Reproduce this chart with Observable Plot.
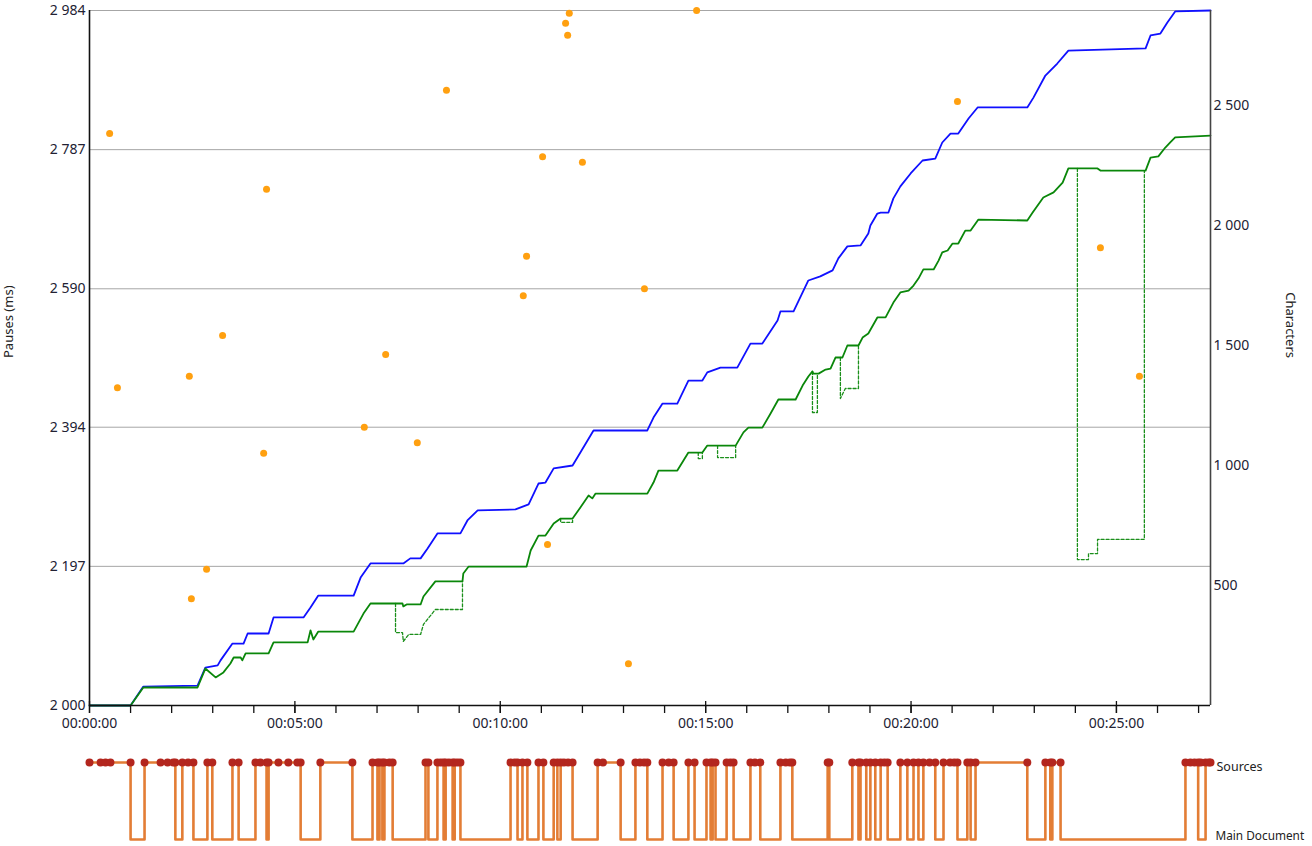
<!DOCTYPE html>
<html><head><meta charset="utf-8">
<script src="https://cdn.jsdelivr.net/npm/d3@7"></script>
<script src="https://cdn.jsdelivr.net/npm/@observablehq/plot@0.6"></script>
<style>
body{margin:0;background:#fff;}
#wrap{width:1312px;height:846px;overflow:hidden;}
svg{display:block;}
</style></head><body><div id="wrap"></div>
<script>
// ---------- data (time in minutes) ----------
const xMax = 27.29;
const pauseTicks = [2000, 2197, 2394, 2590, 2787, 2984];
const charTicks = [500, 1000, 1500, 2000, 2500];
const charMax = 2896;
const majorTimeTicks = [0, 5, 10, 15, 20, 25];
const minorTimeTicks = d3.range(0, 28, 1);

// pauses: [minute, ms]
const pauses = [
  [0.49,2810],[0.68,2450],[2.43,2466],[2.48,2151],[2.85,2193],[3.24,2524],
  [4.31,2731],[4.24,2357],[6.69,2394],[7.21,2497],[7.98,2372],[8.69,2871],
  [10.56,2580],[10.64,2636],[11.03,2777],[11.15,2228],[11.59,2966],[11.64,2949],
  [11.68,2980],[12.00,2769],[13.12,2059],[13.51,2590],[14.78,2984],[21.13,2855],
  [24.61,2648],[25.56,2466]
];

// process (blue): [minute, characters]
const processChars = [
  [0,0],[1.00,0],[1.31,79],[2.63,83],[2.82,158],[3.12,167],[3.19,188],[3.48,258],
  [3.75,258],[3.85,300],[4.36,300],[4.48,367],[5.21,367],[5.38,408],[5.57,458],
  [6.43,458],[6.60,533],[6.84,592],[7.64,592],[7.81,613],[8.06,613],[8.23,654],
  [8.47,717],[9.03,717],[9.20,771],[9.45,813],[10.37,817],[10.69,838],[10.93,925],
  [11.10,929],[11.30,988],[11.76,1000],[11.95,1054],[12.27,1146],[13.58,1146],
  [13.73,1200],[13.95,1258],[14.31,1258],[14.58,1354],[14.92,1354],[15.04,1388],
  [15.36,1408],[15.77,1408],[16.09,1508],[16.38,1508],[16.75,1604],[16.82,1642],
  [17.14,1642],[17.50,1771],[17.79,1788],[18.09,1813],[18.23,1863],[18.45,1913],
  [18.77,1917],[18.96,1967],[19.01,2000],[19.18,2050],[19.26,2054],[19.45,2054],
  [19.57,2113],[19.74,2163],[19.99,2217],[20.28,2271],[20.59,2279],[20.76,2346],
  [20.96,2383],[21.15,2383],[21.40,2446],[21.62,2492],[22.83,2492],[22.98,2533],
  [23.27,2625],[23.56,2675],[23.83,2729],[25.71,2738],[25.83,2792],[26.07,2800],
  [26.24,2846],[26.43,2892],[27.29,2896]
];

// product (green solid): [minute, characters]
const productChars = [
  [0,0],[1.00,0],[1.31,75],[2.63,75],[2.82,154],[3.07,117],[3.26,138],[3.43,175],
  [3.51,200],[3.68,200],[3.72,188],[3.80,217],[4.36,217],[4.48,263],[5.31,263],
  [5.38,313],[5.45,275],[5.57,308],[6.43,308],[6.67,383],[6.84,425],[7.62,425],
  [7.64,413],[7.72,421],[8.06,421],[8.13,454],[8.42,517],[9.08,517],[9.10,550],
  [9.23,579],[10.64,579],[10.74,646],[10.93,708],[11.10,708],[11.30,758],[11.47,779],
  [11.76,779],[11.95,825],[12.15,875],[12.24,863],[12.32,883],[13.58,883],[13.73,929],
  [13.85,979],[14.31,979],[14.46,1021],[14.58,1054],[14.92,1054],[15.04,1083],
  [15.73,1083],[15.92,1138],[16.04,1158],[16.38,1158],[16.58,1217],[16.77,1275],
  [17.19,1275],[17.36,1333],[17.50,1371],[17.60,1392],[17.62,1383],[17.75,1383],
  [17.92,1400],[18.04,1404],[18.16,1450],[18.33,1450],[18.45,1500],[18.72,1500],
  [18.82,1533],[18.96,1550],[19.18,1617],[19.38,1617],[19.57,1679],[19.74,1721],
  [19.94,1729],[20.06,1750],[20.18,1779],[20.30,1817],[20.55,1817],[20.67,1854],
  [20.76,1888],[20.89,1896],[21.01,1925],[21.15,1925],[21.32,1979],[21.45,1979],
  [21.64,2025],[22.83,2021],[22.96,2054],[23.22,2117],[23.47,2138],[23.69,2179],
  [23.83,2238],[24.54,2238],[24.61,2229],[25.71,2229],[25.83,2283],[26.02,2288],
  [26.19,2325],[26.31,2346],[26.43,2367],[27.29,2375]
];

// cursor position (green dashed) where it departs from the product line
const cursorExcursions = [
  [[7.45,425],[7.45,304],[7.62,304],[7.64,267],[7.77,296],[8.06,296],[8.13,338],[8.42,400],[9.08,400],[9.08,517]],
  [[11.47,779],[11.47,763],[11.76,763],[11.76,779]],
  [[14.82,1054],[14.82,1029],[14.92,1029],[14.92,1054]],
  [[15.29,1083],[15.29,1033],[15.73,1033],[15.73,1083]],
  [[17.60,1392],[17.60,1221],[17.72,1221],[17.72,1383]],
  [[18.28,1450],[18.28,1279],[18.40,1321],[18.72,1321],[18.72,1500]],
  [[24.05,2238],[24.05,608],[24.32,608],[24.32,633],[24.54,633],[24.54,692],[25.68,692],[25.68,2229]]
];

// focus timeline: intervals spent in "Sources" (rest = "Main Document")
const sourceVisits = [
  [0,1.00],[1.34,2.09],[2.26,2.53],[2.87,2.99],[3.48,3.63],[4.04,4.31],[4.36,5.14],
  [5.62,6.40],[6.89,7.01],[7.06,7.13],[7.18,7.38],[8.18,8.25],[8.47,8.62],[8.67,8.84],
  [8.89,9.03],[10.25,10.42],[10.54,10.66],[10.93,11.05],[11.30,11.39],[11.47,11.76],
  [12.37,12.93],[13.29,13.58],[13.95,14.22],[14.58,14.73],[15.02,15.12],[15.17,15.24],
  [15.51,15.68],[16.09,16.33],[16.82,17.11],[17.97,18.01],[18.57,18.72],[18.77,18.91],
  [19.01,19.13],[19.26,19.43],[19.74,19.91],[20.06,20.18],[20.30,20.59],[20.79,21.13],
  [21.37,21.45],[21.57,22.83],[23.27,23.39],[23.44,23.64],[26.68,26.99],[27.17,27.29]
];
const extraSourceEvents = [0.27,0.39,0.51,1.73,1.90,2.04,2.40,4.16,4.60,4.84,5.06,
  7.30,8.55,8.75,8.96,10.35,11.55,11.65,12.50,13.40,13.50,14.10,15.60,16.20,16.95,17.05,
  19.35,20.45,20.95,21.05,26.80,26.90,27.05,27.25];

// ---------- helpers ----------
const font = "'Noto Sans', 'Open Sans', sans-serif";
const toP = c => 2000 + c * (984 / charMax);
const fmtNum = d => d3.format(",")(d).replace(/,/g, " ");
const fmtTime = m => "00:" + String(m).padStart(2, "0") + ":00";
const pxToMs = 984 / 695; // ms per pixel on left scale

const cursorRows = cursorExcursions.flatMap((seg, i) => seg.map(([t, c]) => ({t, c, id: i})));

const main = Plot.plot({
  width: 1312, height: 740,
  marginLeft: 89, marginRight: 102, marginTop: 10, marginBottom: 35,
  x: {domain: [0, xMax], axis: null},
  y: {domain: [2000, 2984], axis: null},
  style: {fontFamily: font, fontSize: "13px", color: "#222", background: "#fff"},
  marks: [
    Plot.ruleY(pauseTicks, {stroke: "#a6a6a6", strokeWidth: 1}),
    Plot.line(processChars, {x: d => d[0], y: d => toP(d[1]), stroke: "#1010ff", strokeWidth: 1.8}),
    Plot.line(cursorRows, {x: "t", y: d => toP(d.c), z: "id", stroke: "#1b8f1b", strokeWidth: 1.3, strokeDasharray: "3,2"}),
    Plot.line(productChars, {x: d => d[0], y: d => toP(d[1]), stroke: "#0a870a", strokeWidth: 1.8}),
    Plot.dot(pauses, {x: d => d[0], y: d => d[1], r: 3.5, fill: "#ffa010", stroke: "none"}),
    // frame lines
    Plot.ruleX([0], {stroke: "#111", strokeWidth: 1.6}),
    Plot.ruleX([xMax], {stroke: "#444", strokeWidth: 1.6}),
    Plot.ruleY([2000], {stroke: "#111", strokeWidth: 1.6}),
    // x ticks
    Plot.ruleX(minorTimeTicks, {y1: 2000, y2: 2000 - 8 * pxToMs, stroke: "#111", strokeWidth: 1.3}),
    Plot.ruleX(majorTimeTicks, {y1: 2000 + 4 * pxToMs, y2: 2000 - 8 * pxToMs, stroke: "#111", strokeWidth: 1.3}),
    Plot.text(majorTimeTicks, {x: d => d, y: 2000, dy: 18, text: fmtTime, fontSize: 14, fill: "#223"}),
    // left axis
    Plot.axisY(pauseTicks, {anchor: "left", tickSize: 0, tickPadding: 4, tickFormat: fmtNum, fontSize: 14, label: null, color: "#223"}),
    // right axis (characters)
    Plot.axisY(charTicks.map(toP), {anchor: "right", tickSize: 0, tickPadding: 3, label: null, fontSize: 14, color: "#223",
      tickFormat: d => fmtNum(Math.round((d - 2000) * charMax / 984))}),
    // axis titles
    Plot.text(["Pauses (ms)"], {frameAnchor: "left", dx: -81, rotate: -90, text: d => d, fontSize: 13, fill: "#222"}),
    Plot.text(["Characters"], {frameAnchor: "right", dx: 80, rotate: 90, text: d => d, fontSize: 13, fill: "#222"})
  ]
});

// timeline
const stepPts = [];
sourceVisits.forEach(([s, e], i) => {
  stepPts.push({t: s, v: 1});
  if (i === sourceVisits.length - 1 && e >= xMax) stepPts.push({t: xMax, v: 1});
  else stepPts.push({t: e, v: 0});
});
const dotTimes = sourceVisits.flatMap(([s, e]) => [s, e]).concat(extraSourceEvents);

const timeline = Plot.plot({
  width: 1312, height: 106,
  marginLeft: 89, marginRight: 102, marginTop: 22, marginBottom: 7,
  x: {domain: [0, xMax], axis: null},
  y: {domain: [0, 1], axis: null},
  style: {fontFamily: font, fontSize: "13px", color: "#222", background: "#fff", overflow: "visible"},
  marks: [
    Plot.line(stepPts, {x: "t", y: "v", curve: "step-after", stroke: "#e37d35", strokeWidth: 2.6}),
    Plot.dot(dotTimes, {x: d => d, y: 1, r: 4, fill: "#b3261e", stroke: "none"}),
    Plot.text(["Sources"], {x: xMax, y: 1, dx: 6, dy: 4, text: d => d, textAnchor: "start", fontSize: 12.5, fill: "#222"}),
    Plot.text(["Main Document"], {x: xMax, y: 0, dx: 5, dy: -3, text: d => d, textAnchor: "start", fontSize: 11.8, fill: "#222"})
  ]
});

const wrap = document.getElementById("wrap");
wrap.appendChild(main);
wrap.appendChild(timeline);
</script>
</body></html>
